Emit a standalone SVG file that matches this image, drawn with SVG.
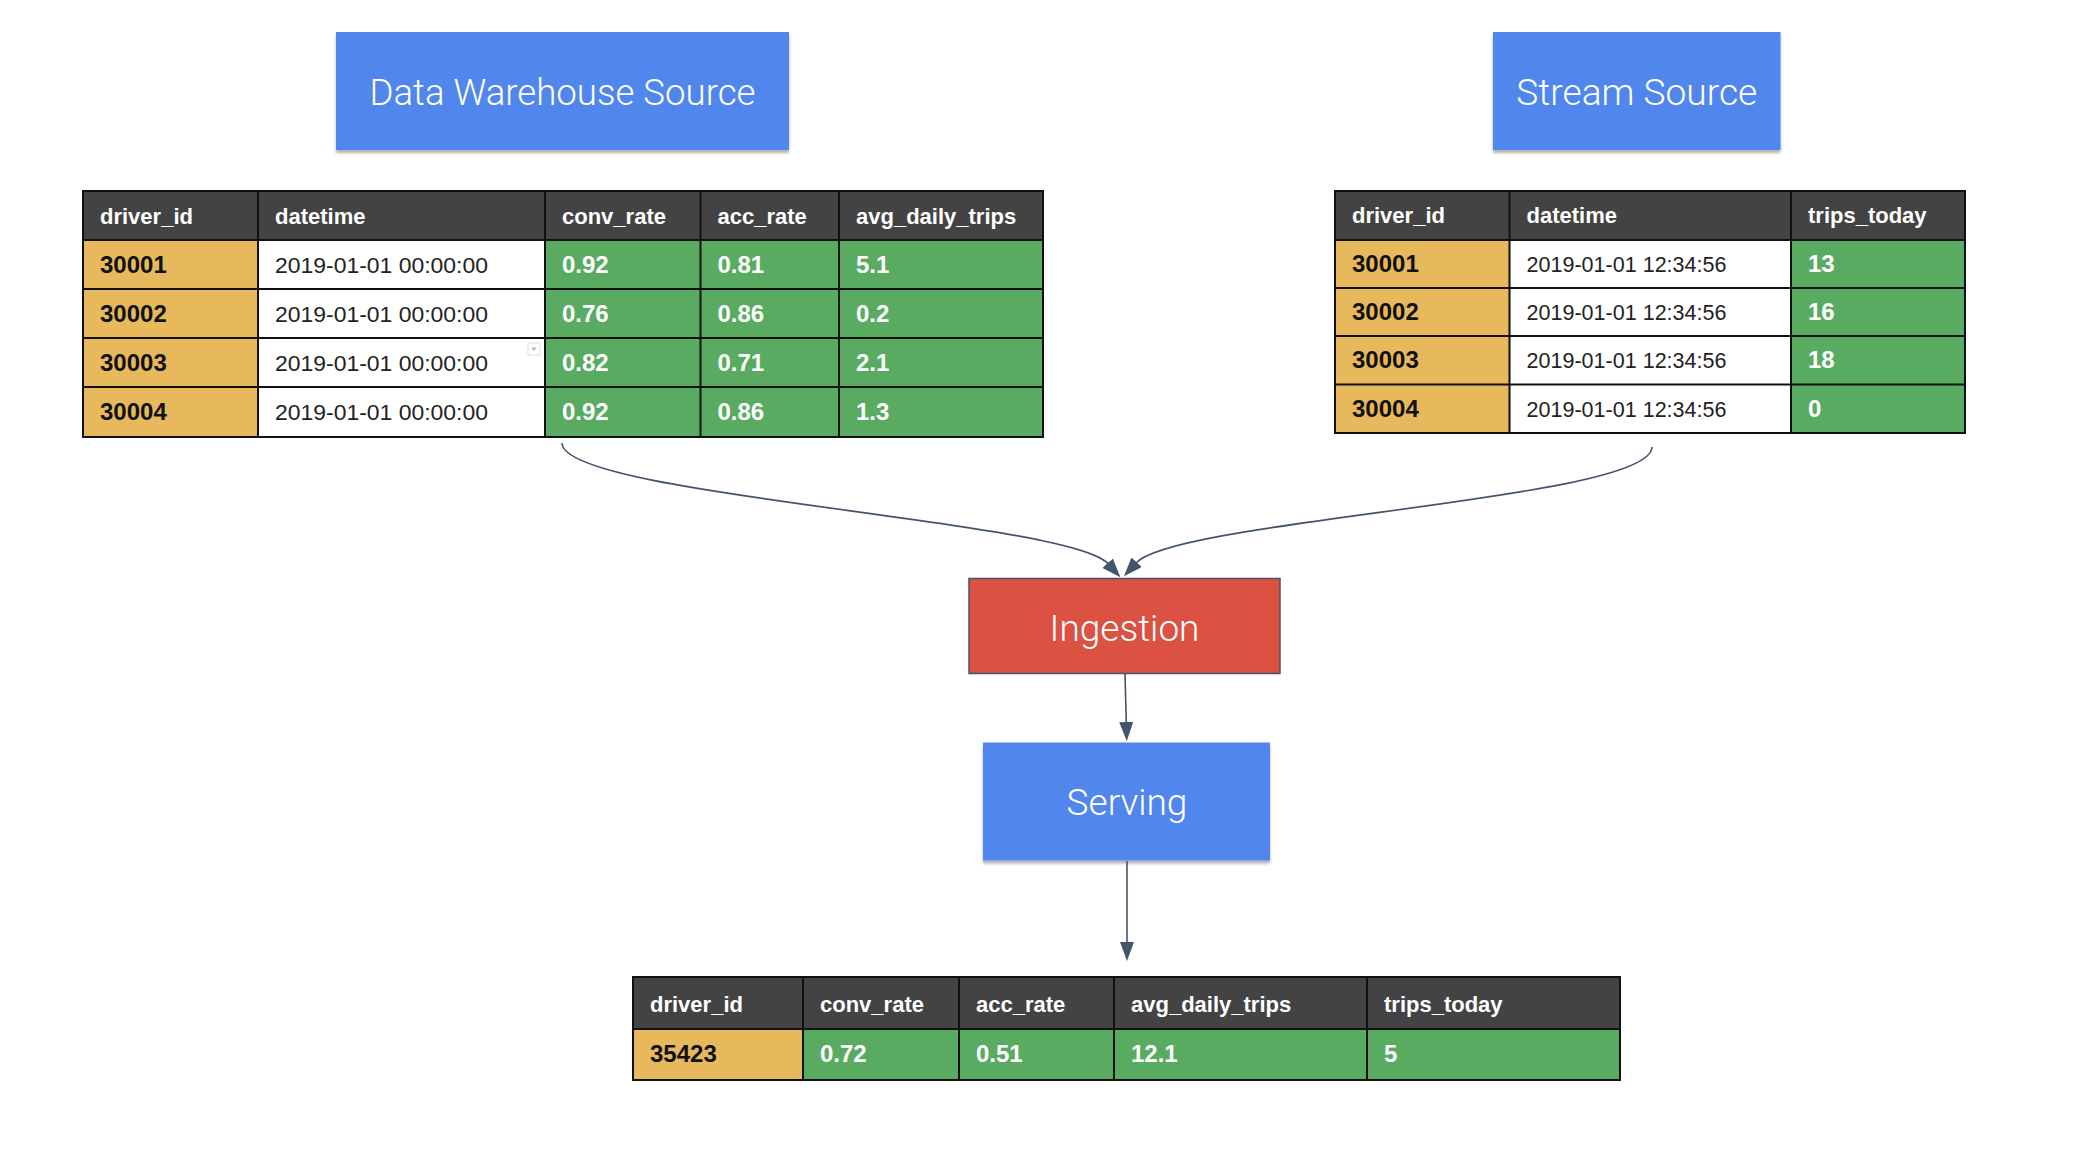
<svg xmlns="http://www.w3.org/2000/svg" width="2080" height="1164" viewBox="0 0 2080 1164">
  <defs>
    <style>
      .box-blue { fill: #5186ec; }
      .box-red { fill: #db5142; stroke: #44546a; stroke-width: 1.5; }
      .title { font-family: Roboto, "Liberation Sans", sans-serif; font-weight: 300; font-size: 37px; fill: #ffffff; text-anchor: middle; }
      .hdr { fill: #434343; }
      .idc { fill: #e8b85c; }
      .valc { fill: #59ab61; }
      .dtc { fill: #ffffff; }
      .grid { fill: none; stroke: #111111; stroke-width: 2; }
      .th { font-family: "Liberation Sans", Arial, sans-serif; font-weight: bold; font-size: 22px; fill: #ffffff; }
      .tid { font-family: "Liberation Sans", Arial, sans-serif; font-weight: bold; font-size: 24px; fill: #111111; }
      .tv { font-family: "Liberation Sans", Arial, sans-serif; font-weight: bold; font-size: 24px; fill: #ffffff; }
      .td { font-family: "Liberation Sans", Arial, sans-serif; font-size: 22px; fill: #222222; }
      .conn { fill: none; stroke: #44546a; stroke-width: 1.6; }
    </style>
    <filter id="shadow" x="-5%" y="-10%" width="110%" height="130%">
      <feDropShadow dx="0" dy="3" stdDeviation="1.5" flood-color="#000000" flood-opacity="0.3"/>
    </filter>
    <marker id="arrow" viewBox="0 0 19 14" markerWidth="19" markerHeight="14" refX="1" refY="7" orient="auto" markerUnits="userSpaceOnUse">
      <path d="M0,0 L19,7 L0,14 Z" fill="#44546a"/>
    </marker>
  </defs>

  <rect width="2080" height="1164" fill="#ffffff"/>

  <!-- Data Warehouse Source -->
  <g id="node-dw-source">
    <rect class="box-blue" x="336" y="32" width="453" height="118" filter="url(#shadow)"/>
    <text class="title" x="562.5" y="105" textLength="386" lengthAdjust="spacingAndGlyphs">Data Warehouse Source</text>
  </g>

  <!-- Stream Source -->
  <g id="node-stream-source">
    <rect class="box-blue" x="1493" y="32" width="287.5" height="118" filter="url(#shadow)"/>
    <text class="title" x="1636.8" y="105" textLength="241" lengthAdjust="spacingAndGlyphs">Stream Source</text>
  </g>

  <!-- Data Warehouse table -->
  <g id="node-dw-table">
    <rect class="hdr" x="83" y="191" width="960" height="49"/>
    <rect class="idc" x="83" y="240" width="175" height="197"/>
    <rect class="dtc" x="258" y="240" width="287" height="197"/>
    <rect class="valc" x="545" y="240" width="498" height="197"/>
    <rect class="grid" x="83" y="191" width="960" height="246"/>
    <path class="grid" d="M258,191V437 M545,191V437 M700.5,191V437 M839,191V437 M83,240H1043 M83,289H1043 M83,338H1043 M83,387H1043"/>
    <rect x="528" y="343" width="12" height="12" fill="#ffffff" stroke="#dddddd" stroke-width="1"/>
    <path d="M531,347.5 L537,347.5 L534,351 Z" fill="#bbbbbb"/>
    <text class="th" x="100" y="223.5">driver_id</text>
    <text class="th" x="275" y="223.5">datetime</text>
    <text class="th" x="562" y="223.5">conv_rate</text>
    <text class="th" x="717.5" y="223.5">acc_rate</text>
    <text class="th" x="856" y="223.5">avg_daily_trips</text>
    <text class="tid" x="100" y="272.5">30001</text>
    <text class="td" x="275" y="272.5" textLength="213" lengthAdjust="spacingAndGlyphs">2019-01-01 00:00:00</text>
    <text class="tv" x="562" y="272.5">0.92</text>
    <text class="tv" x="717.5" y="272.5">0.81</text>
    <text class="tv" x="856" y="272.5">5.1</text>
    <text class="tid" x="100" y="321.5">30002</text>
    <text class="td" x="275" y="321.5" textLength="213" lengthAdjust="spacingAndGlyphs">2019-01-01 00:00:00</text>
    <text class="tv" x="562" y="321.5">0.76</text>
    <text class="tv" x="717.5" y="321.5">0.86</text>
    <text class="tv" x="856" y="321.5">0.2</text>
    <text class="tid" x="100" y="370.5">30003</text>
    <text class="td" x="275" y="370.5" textLength="213" lengthAdjust="spacingAndGlyphs">2019-01-01 00:00:00</text>
    <text class="tv" x="562" y="370.5">0.82</text>
    <text class="tv" x="717.5" y="370.5">0.71</text>
    <text class="tv" x="856" y="370.5">2.1</text>
    <text class="tid" x="100" y="420">30004</text>
    <text class="td" x="275" y="420" textLength="213" lengthAdjust="spacingAndGlyphs">2019-01-01 00:00:00</text>
    <text class="tv" x="562" y="420">0.92</text>
    <text class="tv" x="717.5" y="420">0.86</text>
    <text class="tv" x="856" y="420">1.3</text>
  </g>

  <!-- Stream table -->
  <g id="node-stream-table">
    <rect class="hdr" x="1335" y="191" width="630" height="49"/>
    <rect class="idc" x="1335" y="240" width="174.5" height="193"/>
    <rect class="dtc" x="1509.5" y="240" width="281.5" height="193"/>
    <rect class="valc" x="1791" y="240" width="174" height="193"/>
    <rect class="grid" x="1335" y="191" width="630" height="242"/>
    <path class="grid" d="M1509.5,191V433 M1791,191V433 M1335,240H1965 M1335,288H1965 M1335,336H1965 M1335,384.5H1965"/>
    <text class="th" x="1352" y="223">driver_id</text>
    <text class="th" x="1526.5" y="223">datetime</text>
    <text class="th" x="1808" y="223">trips_today</text>
    <text class="tid" x="1352" y="271.5">30001</text>
    <text class="td" x="1526.5" y="271.5" textLength="200" lengthAdjust="spacingAndGlyphs">2019-01-01 12:34:56</text>
    <text class="tv" x="1808" y="271.5">13</text>
    <text class="tid" x="1352" y="319.5">30002</text>
    <text class="td" x="1526.5" y="319.5" textLength="200" lengthAdjust="spacingAndGlyphs">2019-01-01 12:34:56</text>
    <text class="tv" x="1808" y="319.5">16</text>
    <text class="tid" x="1352" y="368">30003</text>
    <text class="td" x="1526.5" y="368" textLength="200" lengthAdjust="spacingAndGlyphs">2019-01-01 12:34:56</text>
    <text class="tv" x="1808" y="368">18</text>
    <text class="tid" x="1352" y="416.5">30004</text>
    <text class="td" x="1526.5" y="416.5" textLength="200" lengthAdjust="spacingAndGlyphs">2019-01-01 12:34:56</text>
    <text class="tv" x="1808" y="416.5">0</text>
  </g>

  <!-- Ingestion -->
  <g id="node-ingestion">
    <rect class="box-red" x="969" y="578.5" width="311" height="95"/>
    <text class="title" x="1124.5" y="640.5">Ingestion</text>
  </g>

  <!-- Serving -->
  <g id="node-serving">
    <rect class="box-blue" x="983" y="742.5" width="287" height="118" filter="url(#shadow)"/>
    <text class="title" x="1127" y="815">Serving</text>
  </g>

  <!-- Output table -->
  <g id="node-output-table">
    <rect class="hdr" x="633" y="977" width="987" height="52"/>
    <rect class="idc" x="633" y="1029" width="170" height="51"/>
    <rect class="valc" x="803" y="1029" width="817" height="51"/>
    <rect class="grid" x="633" y="977" width="987" height="103"/>
    <path class="grid" d="M803,977V1080 M959,977V1080 M1114,977V1080 M1367,977V1080 M633,1029H1620"/>
    <text class="th" x="650" y="1011.5">driver_id</text>
    <text class="th" x="820" y="1011.5">conv_rate</text>
    <text class="th" x="976" y="1011.5">acc_rate</text>
    <text class="th" x="1131" y="1011.5">avg_daily_trips</text>
    <text class="th" x="1384" y="1011.5">trips_today</text>
    <text class="tid" x="650" y="1062">35423</text>
    <text class="tv" x="820" y="1062">0.72</text>
    <text class="tv" x="976" y="1062">0.51</text>
    <text class="tv" x="1131" y="1062">12.1</text>
    <text class="tv" x="1384" y="1062">5</text>
  </g>

  <!-- Connectors -->
  <g id="connectors">
    <path class="conn" d="M562,443 C562,496 1068,519.5 1108.3,563.9" marker-end="url(#arrow)"/>
    <path class="conn" d="M1652,447 C1652,500 1176,519 1136,563" marker-end="url(#arrow)"/>
    <path class="conn" d="M1125,674 L1126.3,723" marker-end="url(#arrow)"/>
    <path class="conn" d="M1127,861 L1127,943" marker-end="url(#arrow)"/>
  </g>
</svg>
